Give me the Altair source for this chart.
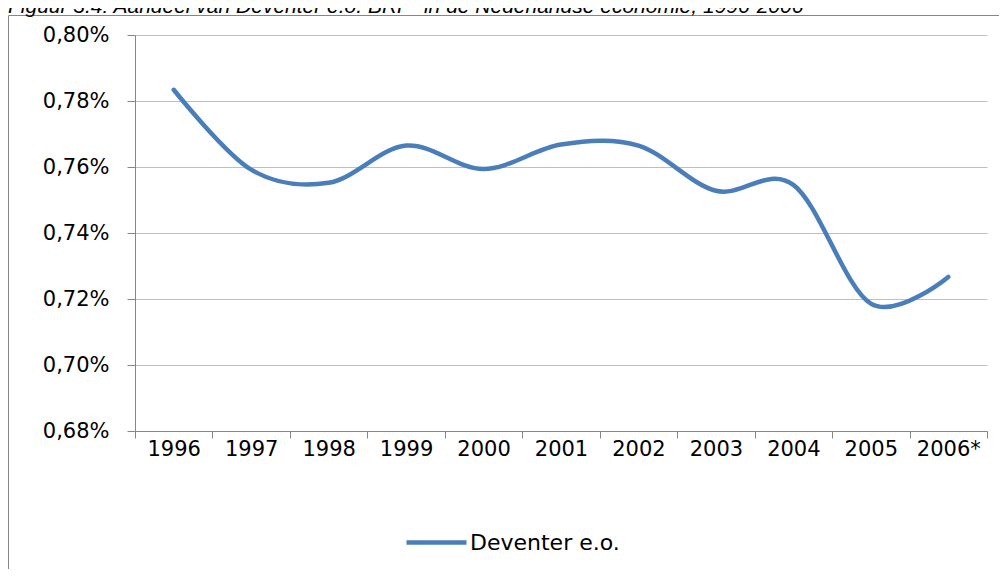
import altair as alt
import pandas as pd

years = ["1996", "1997", "1998", "1999", "2000", "2001", "2002", "2003", "2004", "2005", "2006*"]
values = [0.7834, 0.7592, 0.7552, 0.7665, 0.7594, 0.7668, 0.7665, 0.7528, 0.7546, 0.7186, 0.7267]
series = ["Deventer e.o."] * len(years)
y_ticks = [0.68, 0.70, 0.72, 0.74, 0.76, 0.78, 0.80]
title_text = "Figuur 3.4: Aandeel van Deventer e.o. BRP\u00b9 in de Nederlandse economie, 1996-2006"

df = pd.DataFrame({"jaar": years, "aandeel": values, "reeks": series})

FONT = "DejaVu Sans"
GRAY = "#868686"

base = alt.Chart(df)

line = base.mark_line(
    interpolate="cardinal", strokeWidth=4.5, strokeCap="round"
).encode(
    x=alt.X(
        "jaar:N",
        sort=years,
        bandPosition=0.5,
        scale=alt.Scale(type="band", paddingInner=0, paddingOuter=0),
        axis=alt.Axis(
            title=None,
            tickBand="extent",
            tickSize=7,
            tickColor=GRAY,
            domainColor=GRAY,
            labelFont=FONT,
            labelFontSize=21,
            labelColor="#000000",
            labelAngle=0,
            labelPadding=0,
            grid=False,
        ),
    ),
    y=alt.Y(
        "aandeel:Q",
        scale=alt.Scale(domain=[0.68, 0.80], nice=False, zero=False),
        axis=alt.Axis(
            title=None,
            values=y_ticks,
            labelExpr="replace(format(datum.value, '.2f'), '.', ',') + '%'",
            tickSize=8,
            tickColor=GRAY,
            domainColor=GRAY,
            gridColor="#BFBFBF",
            gridWidth=1,
            labelFont=FONT,
            labelFontSize=21,
            labelColor="#000000",
            labelPadding=18,
        ),
    ),
    color=alt.Color(
        "reeks:N",
        scale=alt.Scale(range=["#4A7EBB"]),
        legend=alt.Legend(
            title=None,
            orient="none",
            legendX=269,
            legendY=475,
            symbolType="stroke",
            symbolSize=3600,
            symbolStrokeWidth=4.5,
            labelFont=FONT,
            labelFontSize=22,
            labelColor="#000000",
            labelOffset=1,
        ),
    ),
)

frame = alt.Chart(pd.DataFrame({"k": [0]})).mark_rect(
    fill="transparent", stroke=GRAY, strokeWidth=1
).encode(
    x=alt.value(-126.5), x2=alt.value(900), y=alt.value(-19.5), y2=alt.value(700)
)

title = alt.Chart(pd.DataFrame({"t": [title_text]})).mark_text(
    align="left", baseline="alphabetic", font="Liberation Sans", fontSize=21,
    fontStyle="italic", color="#000000"
).encode(
    text="t:N", x=alt.value(-127), y=alt.value(-22)
)

chart = alt.layer(frame, line, title).properties(
    width=852,
    height=396,
    autosize=alt.AutoSizeParams(type="none"),
    padding={"left": 127, "top": 27, "right": 12, "bottom": 138},
    background="white",
).configure_view(strokeWidth=0)

chart.save("out.html", embed_options={"renderer": "svg", "actions": False})
